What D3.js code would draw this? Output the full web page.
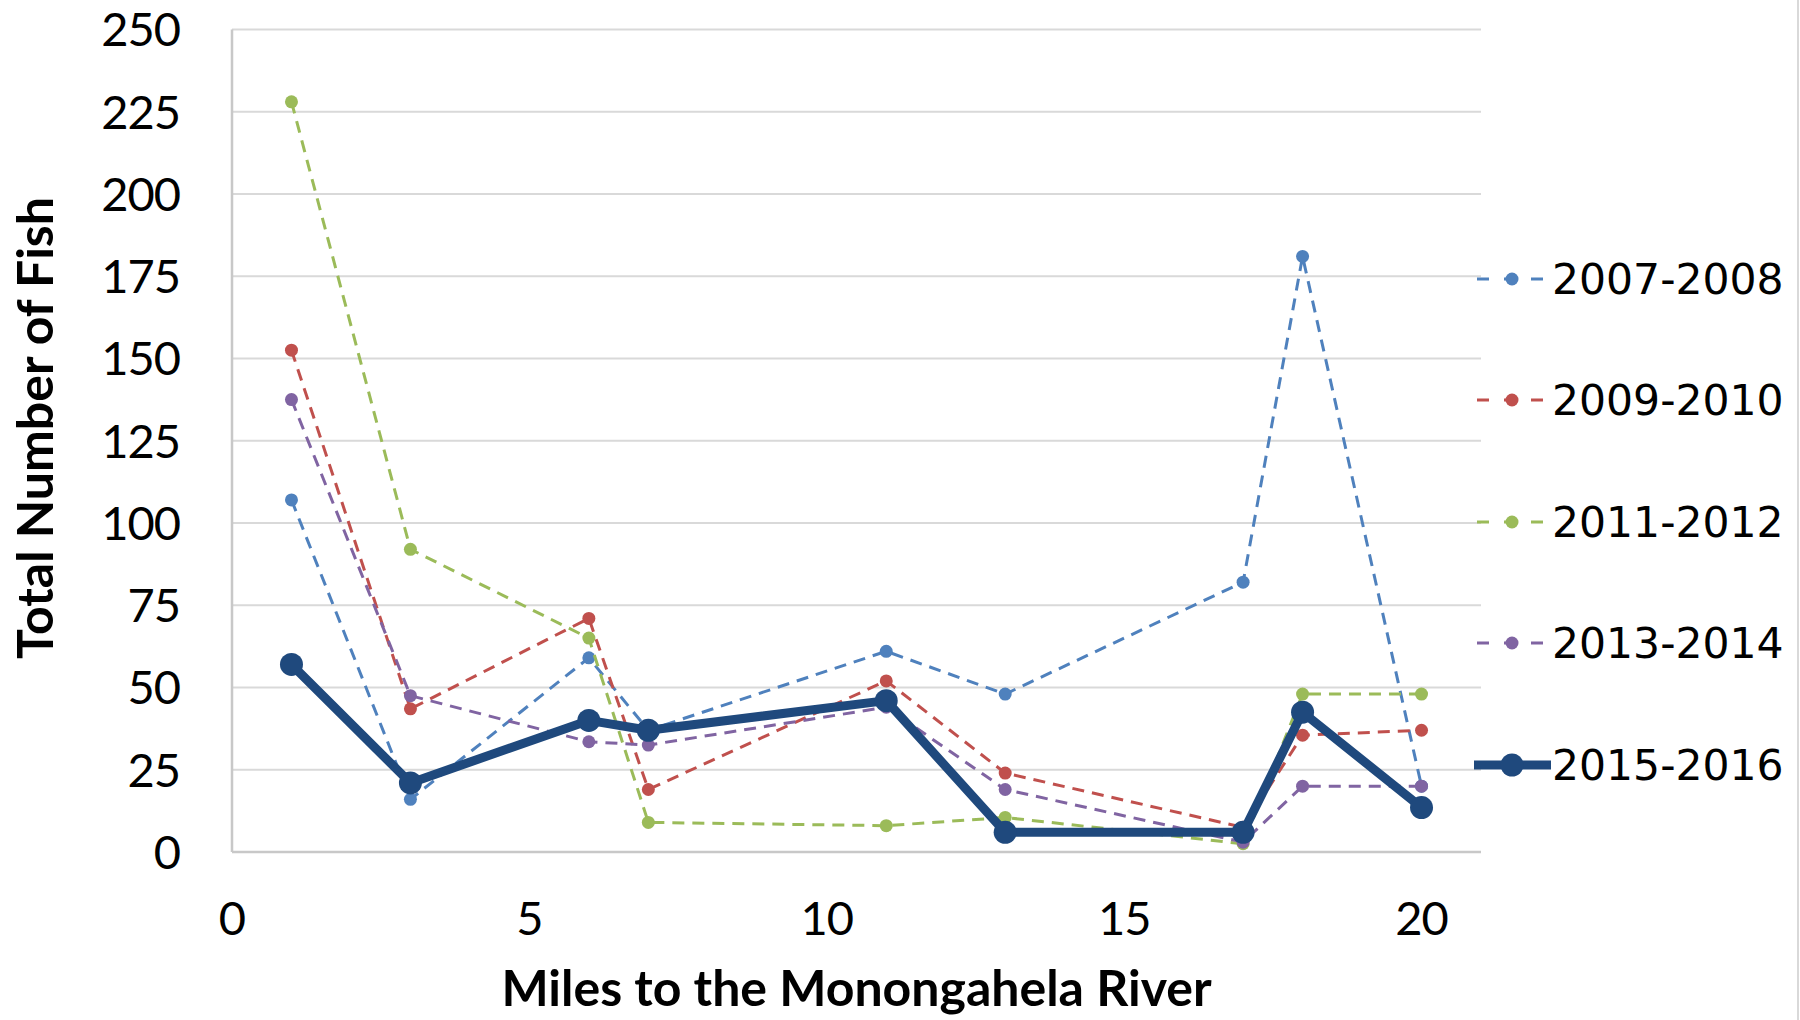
<!DOCTYPE html>
<html>
<head>
<meta charset="utf-8">
<script src="https://cdn.jsdelivr.net/npm/d3@7"></script>
<style>
  html, body { margin: 0; padding: 0; background: #fff; }
  svg { display: block; }
  .tick-label { font-family: Lato, "Open Sans", sans-serif; font-size: 47px; letter-spacing: -1px; fill: #000; }
  .axis-title { font-family: Lato, "Open Sans", sans-serif; font-size: 50px; font-weight: bold; fill: #000; }
  .legend-label { font-family: "DejaVu Sans", Verdana, sans-serif; font-size: 42.5px; fill: #000; }
</style>
</head>
<body>
<svg id="chart" width="1800" height="1020"></svg>
<script>
// miles upstream, shared by every survey period
const miles = [1, 3, 6, 7, 11, 13, 17, 18, 20];

// fish counts per survey period
const fish0708 = [107, 16, 59, 37, 61, 48, 82, 181, 20];
const fish0910 = [152.5, 43.5, 71, 19, 52, 24, 7.5, 35.5, 37];
const fish1112 = [228, 92, 65, 9, 8, 10.5, 2.5, 48, 48];
const fish1314 = [137.5, 47.5, 33.5, 32.5, 44, 19, 3, 20, 20];
const fish1516 = [57, 21, 40, 37, 46, 6, 6, 42.5, 13.5];

const seriesNames = ["2007-2008", "2009-2010", "2011-2012", "2013-2014", "2015-2016"];
const seriesValues = [fish0708, fish0910, fish1112, fish1314, fish1516];
const seriesColors = ["#4F81BD", "#C0504D", "#9BBB59", "#8064A2", "#1F497D"];

const xTicks = [0, 5, 10, 15, 20];
const yTicks = [0, 25, 50, 75, 100, 125, 150, 175, 200, 225, 250];

const svg = d3.select("#chart");

// plot area
const plotLeft = 232, plotRight = 1481, plotTop = 29.4, plotBottom = 852;

const x = d3.scaleLinear().domain([0, 21]).range([plotLeft, plotRight]);
const y = d3.scaleLinear().domain([0, 250]).range([plotBottom, plotTop]);

// gridlines
svg.append("g")
  .selectAll("line")
  .data(yTicks.slice(1))
  .join("line")
  .attr("x1", plotLeft)
  .attr("x2", plotRight)
  .attr("y1", d => y(d))
  .attr("y2", d => y(d))
  .attr("stroke", "#D9D9D9")
  .attr("stroke-width", 2);

// axes lines
svg.append("line")
  .attr("x1", plotLeft).attr("x2", plotRight)
  .attr("y1", plotBottom).attr("y2", plotBottom)
  .attr("stroke", "#C8C8C8").attr("stroke-width", 2.5);
svg.append("line")
  .attr("x1", plotLeft).attr("x2", plotLeft)
  .attr("y1", plotTop).attr("y2", plotBottom)
  .attr("stroke", "#C8C8C8").attr("stroke-width", 2.5);

// chart border on the right edge
svg.append("line")
  .attr("x1", 1798).attr("x2", 1798)
  .attr("y1", 0).attr("y2", 1020)
  .attr("stroke", "#D9D9D9").attr("stroke-width", 2);

// y tick labels
svg.append("g")
  .selectAll("text")
  .data(yTicks)
  .join("text")
  .attr("class", "tick-label")
  .attr("x", 180)
  .attr("y", d => y(d))
  .attr("dy", "0.36em")
  .attr("text-anchor", "end")
  .text(d => d);

// x tick labels
svg.append("g")
  .selectAll("text")
  .data(xTicks)
  .join("text")
  .attr("class", "tick-label")
  .attr("x", d => x(d))
  .attr("y", 918)
  .attr("dy", "0.36em")
  .attr("text-anchor", "middle")
  .text(d => d);

// axis titles
svg.append("text")
  .attr("class", "axis-title")
  .attr("x", (plotLeft + plotRight) / 2)
  .attr("y", 1006)
  .attr("text-anchor", "middle")
  .text("Miles to the Monongahela River");

svg.append("text")
  .attr("class", "axis-title")
  .attr("transform", "translate(53,428) rotate(-90)")
  .attr("text-anchor", "middle")
  .text("Total Number of Fish");

// series
const line = d3.line()
  .x((d, i) => x(miles[i]))
  .y(d => y(d));

seriesValues.forEach((vals, s) => {
  const isMain = s === 4;
  const g = svg.append("g");
  g.append("path")
    .attr("d", line(vals))
    .attr("fill", "none")
    .attr("stroke", seriesColors[s])
    .attr("stroke-width", isMain ? 9 : 3)
    .attr("stroke-linejoin", "round")
    .attr("stroke-dasharray", isMain ? null : "12,8");
  g.selectAll("circle")
    .data(vals)
    .join("circle")
    .attr("cx", (d, i) => x(miles[i]))
    .attr("cy", d => y(d))
    .attr("r", isMain ? 11.5 : 6.5)
    .attr("fill", seriesColors[s]);
});

// legend
const legendY = [279, 400, 522, 643, 765];
seriesNames.forEach((name, s) => {
  const isMain = s === 4;
  const g = svg.append("g").attr("transform", `translate(0,${legendY[s]})`);
  g.append("line")
    .attr("x1", isMain ? 1474 : 1477)
    .attr("x2", isMain ? 1551 : 1546)
    .attr("y1", 0).attr("y2", 0)
    .attr("stroke", seriesColors[s])
    .attr("stroke-width", isMain ? 9 : 3)
    .attr("stroke-dasharray", isMain ? null : "12,15");
  g.append("circle")
    .attr("cx", 1512)
    .attr("cy", 0)
    .attr("r", isMain ? 11.5 : 6.5)
    .attr("fill", seriesColors[s]);
  g.append("text")
    .attr("class", "legend-label")
    .attr("x", 1552)
    .attr("y", 0)
    .attr("dy", "0.36em")
    .text(name);
});
</script>
</body>
</html>
